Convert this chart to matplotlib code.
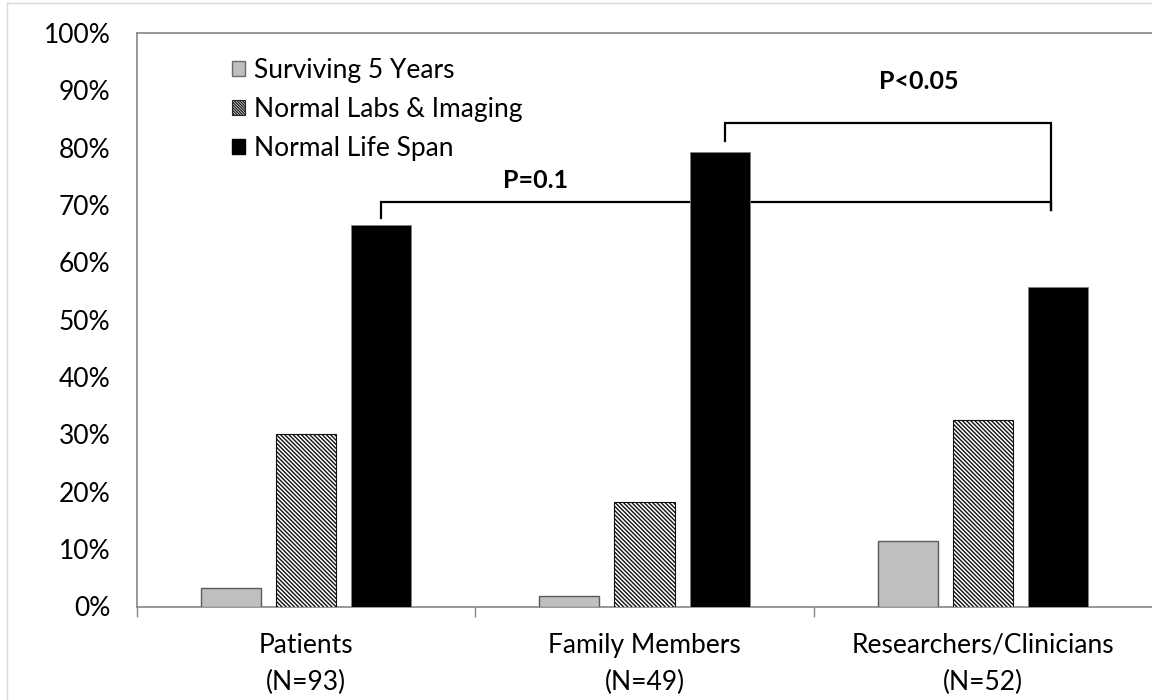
import matplotlib
matplotlib.use("Agg")
import matplotlib.pyplot as plt
import numpy as np
from matplotlib.patches import Patch
from matplotlib.lines import Line2D

# ---------------- data ----------------
groups = ["Patients\n(N=93)", "Family Members\n(N=49)", "Researchers/Clinicians\n(N=52)"]
series_names = ["Surviving 5 Years", "Normal Labs & Imaging", "Normal Life Span"]
surviving_5_years = [3.2, 1.9, 11.5]
normal_labs_imaging = [30.0, 18.2, 32.6]
normal_life_span = [66.5, 79.3, 55.7]
y_ticks = [0, 10, 20, 30, 40, 50, 60, 70, 80, 90, 100]
y_tick_labels = [f"{v}%" for v in y_ticks]
p_labels = ["P=0.1", "P<0.05"]

# ---------------- style ----------------
plt.rcParams["font.family"] = ["Lato", "DejaVu Sans"]
plt.rcParams["hatch.linewidth"] = 1.0
FS = 19
HATCH = "\\" * 8

fig = plt.figure(figsize=(11.52, 7.0), dpi=100)
ax = fig.add_axes([137 / 1152, 1 - 606.5 / 700, 1 - 137 / 1152, (606.5 - 33) / 700])

x = np.arange(len(groups))
w = 0.1775
off = 0.222
series = [surviving_5_years, normal_labs_imaging, normal_life_span]
styles = [
    dict(facecolor="#BFBFBF", edgecolor="#5a5a5a", linewidth=1.0),
    dict(facecolor="white", edgecolor="#111111", linewidth=0.8, hatch=HATCH),
    dict(facecolor="black", edgecolor="#7f7f7f", linewidth=0.6),
]
for i, (vals, st) in enumerate(zip(series, styles)):
    ax.bar(x + (i - 1) * off, vals, width=w, zorder=3, **st)

ax.set_xlim(-0.5, 2.5)
ax.set_ylim(0, 100)
ax.set_yticks(y_ticks)
ax.set_yticklabels(y_tick_labels, fontsize=FS)
ax.tick_params(axis="y", length=0, pad=19)
ax.set_xticks(x)
ax.set_xticklabels(groups, fontsize=FS, linespacing=1.6)
ax.tick_params(axis="x", which="major", length=0, pad=19)
ax.set_xticks([-0.5, 0.5, 1.5], minor=True)
ax.tick_params(axis="x", which="minor", length=7.5, width=1.0, color="#868686", direction="out")

for s in ["left", "bottom", "top"]:
    ax.spines[s].set_color("#868686")
    ax.spines[s].set_linewidth(1.2)
ax.spines["right"].set_visible(False)

# significance brackets
lw = 1.6
xb0 = 0 + off
xb1 = 1 + off + 0.015
xb2 = 2 + off - 0.02
ax.plot([xb0, xb0, xb2, xb2], [67.7, 70.6, 70.6, 69.1], color="black", lw=lw, zorder=2,
        solid_joinstyle="miter")
ax.plot([xb1, xb1, xb2, xb2], [81.2, 84.3, 84.3, 69.1], color="black", lw=lw, zorder=4,
        solid_joinstyle="miter")
ax.text(0.677, 74.3, p_labels[0], fontsize=18, fontweight="bold", ha="center", va="center")
ax.text(1.81, 91.6, p_labels[1], fontsize=18, fontweight="bold", ha="center", va="center")

# legend
handles = [
    Patch(facecolor="#BFBFBF", edgecolor="#6a6a6a", linewidth=1.0),
    Patch(facecolor="white", edgecolor="#222222", linewidth=0.8, hatch="\\" * 12),
    Patch(facecolor="black", edgecolor="black"),
]
fig.legend(handles, series_names, loc="upper left", bbox_to_anchor=(232 / 1152, 1 - 58 / 700),
           frameon=False, fontsize=FS, handlelength=0.5, handleheight=0.5,
           handletextpad=0.35, labelspacing=0.53, borderpad=0, borderaxespad=0)

# faint outer chart border
fig.add_artist(Line2D([7 / 1152, 7 / 1152], [0, 1 - 3 / 700], transform=fig.transFigure,
                      color="#d9d9d9", lw=1.0))
fig.add_artist(Line2D([7 / 1152, 1], [1 - 3 / 700, 1 - 3 / 700], transform=fig.transFigure,
                      color="#d9d9d9", lw=1.0))

fig.savefig("out.png", dpi=100)
